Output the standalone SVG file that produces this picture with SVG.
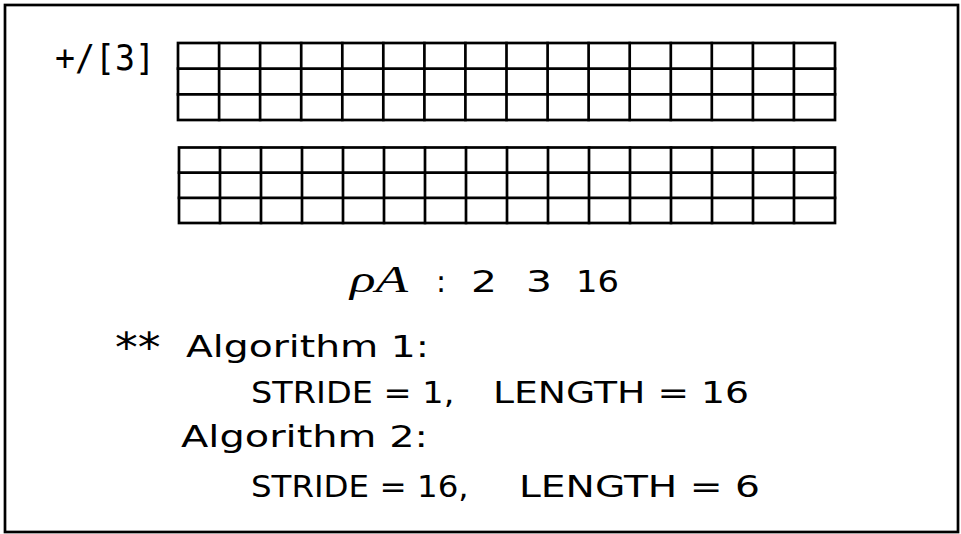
<svg xmlns="http://www.w3.org/2000/svg" width="961" height="534" viewBox="0 0 961 534">
<style>
.ln{fill:none;stroke:#000;stroke-width:2.7;stroke-linecap:square}
.t{font-family:"DejaVu Sans","Liberation Sans",sans-serif;font-size:30px;fill:#000}
.m{font-family:"DejaVu Sans Mono","Liberation Mono",monospace;font-size:35px;fill:#000}
.it{font-family:"Liberation Serif","DejaVu Serif",serif;font-style:italic;font-size:38px}
</style>
<rect width="961" height="534" fill="#fff"/>
<g id="frame"><rect class="ln" x="5" y="5" width="953" height="527" stroke-width="2.5"/></g>
<g id="label"><text class="m" x="55" y="70" textLength="100" lengthAdjust="spacingAndGlyphs">+/[3]</text></g>
<g id="grid1">
<rect class="ln" x="178" y="43" width="657" height="77"/>
<path class="ln" d="M178 68.7H835M178 94.3H835M219.1 43V120M260.1 43V120M301.2 43V120M342.3 43V120M383.3 43V120M424.4 43V120M465.4 43V120M506.5 43V120M547.6 43V120M588.6 43V120M629.7 43V120M670.8 43V120M711.8 43V120M752.9 43V120M793.9 43V120"/>
</g>
<g id="grid2">
<rect class="ln" x="179" y="147.5" width="656" height="75.5"/>
<path class="ln" d="M179 172.7H835M179 197.8H835M220 147.5V223M261 147.5V223M302 147.5V223M343 147.5V223M384 147.5V223M425 147.5V223M466 147.5V223M507 147.5V223M548 147.5V223M589 147.5V223M630 147.5V223M671 147.5V223M712 147.5V223M753 147.5V223M794 147.5V223"/>
</g>
<g id="shape">
<text class="t" font-size="33" y="292"><tspan class="it" x="350" textLength="58" lengthAdjust="spacingAndGlyphs">ρA</tspan> <tspan x="436">:</tspan> <tspan x="471" textLength="26" lengthAdjust="spacingAndGlyphs">2</tspan> <tspan x="526" textLength="26" lengthAdjust="spacingAndGlyphs">3</tspan> <tspan x="576" textLength="43" lengthAdjust="spacingAndGlyphs">16</tspan></text>
</g>
<g id="algorithms">
<text class="t" y="357"><tspan x="115" y="362" font-size="40" textLength="60" lengthAdjust="spacingAndGlyphs">** </tspan><tspan x="186" y="357" textLength="243" lengthAdjust="spacingAndGlyphs">Algorithm 1:</tspan></text>
<text class="t" y="403"><tspan x="251" textLength="214" lengthAdjust="spacingAndGlyphs">STRIDE = 1, </tspan> <tspan x="493" textLength="256" lengthAdjust="spacingAndGlyphs">LENGTH = 16</tspan></text>
<text class="t" x="181" y="447" textLength="247" lengthAdjust="spacingAndGlyphs">Algorithm 2:</text>
<text class="t" y="497"><tspan x="251" textLength="228" lengthAdjust="spacingAndGlyphs">STRIDE = 16, </tspan> <tspan x="519" textLength="241" lengthAdjust="spacingAndGlyphs">LENGTH = 6</tspan></text>
</g>
</svg>
